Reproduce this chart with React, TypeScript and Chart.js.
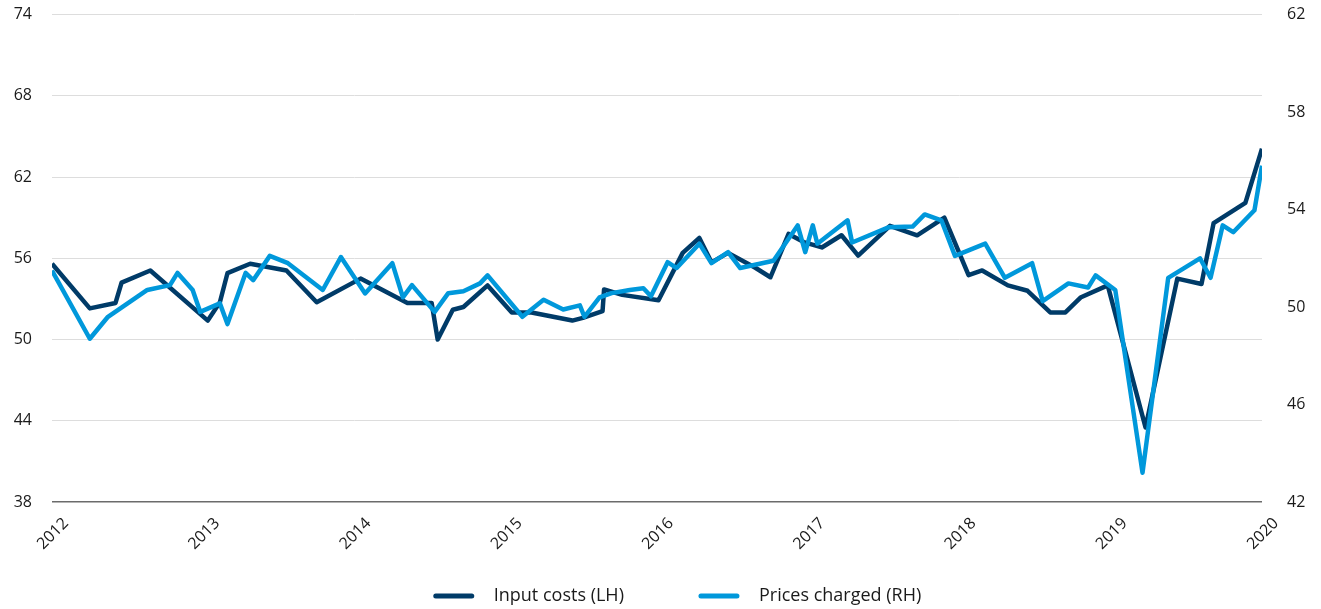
import React, { useEffect, useRef } from "react";
import { Chart, registerables } from "chart.js";

Chart.register(...registerables);

// Time positions (decimal years) and values
const inputCostsX = [
  2012.0, 2012.25, 2012.42, 2012.46, 2012.65, 2013.03, 2013.11, 2013.16, 2013.31, 2013.55,
  2013.75, 2014.04, 2014.35, 2014.51, 2014.55, 2014.65, 2014.72, 2014.88, 2015.04, 2015.17,
  2015.44, 2015.51, 2015.64, 2015.65, 2015.77, 2016.01, 2016.17, 2016.28, 2016.36, 2016.47,
  2016.65, 2016.75, 2016.87, 2016.97, 2017.09, 2017.22, 2017.33, 2017.54, 2017.72, 2017.9,
  2018.06, 2018.15, 2018.32, 2018.45, 2018.6, 2018.7, 2018.8, 2018.98, 2019.23, 2019.44,
  2019.6, 2019.68, 2019.89, 2020.0,
];
const inputCosts = [
  55.6, 52.3, 52.7, 54.2, 55.1, 51.4, 52.75, 54.9, 55.6, 55.1,
  52.75, 54.5, 52.7, 52.7, 50.0, 52.2, 52.4, 54.0, 52.0, 52.0,
  51.4, 51.6, 52.1, 53.7, 53.3, 52.9, 56.4, 57.5, 55.7, 56.4,
  55.3, 54.6, 57.8, 57.2, 56.8, 57.7, 56.2, 58.4, 57.7, 59.0,
  54.75, 55.1, 54.0, 53.6, 52.0, 52.0, 53.1, 54.0, 43.5, 54.5,
  54.1, 58.6, 60.1, 64.1,
];

const pricesChargedX = [
  2012.0, 2012.25, 2012.37, 2012.63, 2012.78, 2012.83, 2012.93, 2012.98, 2013.11, 2013.16,
  2013.28, 2013.33, 2013.44, 2013.56, 2013.79, 2013.91, 2014.07, 2014.25, 2014.32, 2014.38,
  2014.53, 2014.62, 2014.72, 2014.83, 2014.88, 2015.11, 2015.25, 2015.38, 2015.49, 2015.52,
  2015.62, 2015.7, 2015.82, 2015.91, 2015.96, 2016.07, 2016.13, 2016.28, 2016.36, 2016.47,
  2016.55, 2016.77, 2016.93, 2016.98, 2017.03, 2017.06, 2017.26, 2017.29, 2017.53, 2017.69,
  2017.77, 2017.88, 2017.97, 2018.17, 2018.3, 2018.48, 2018.55, 2018.72, 2018.85, 2018.9,
  2019.03, 2019.21, 2019.38, 2019.59, 2019.66, 2019.74, 2019.81, 2019.95, 2020.0,
];
const pricesCharged = [
  51.5, 48.7, 49.6, 50.7, 50.9, 51.4, 50.7, 49.8, 50.15, 49.3,
  51.4, 51.1, 52.1, 51.8, 50.7, 52.05, 50.56, 51.8, 50.4, 50.9,
  49.8, 50.57, 50.65, 50.97, 51.3, 49.6, 50.3, 49.9, 50.07, 49.6,
  50.4, 50.57, 50.7, 50.77, 50.44, 51.84, 51.6, 52.6, 51.8, 52.25,
  51.6, 51.9, 53.35, 52.25, 53.35, 52.6, 53.56, 52.65, 53.27, 53.3,
  53.8, 53.56, 52.1, 52.6, 51.2, 51.8, 50.24, 50.97, 50.8, 51.3,
  50.7, 43.2, 51.2, 52.0, 51.2, 53.35, 53.07, 53.97, 55.8,
];

const seriesNames = ["Input costs (LH)", "Prices charged (RH)"];
const seriesColors = ["#003b68", "#0098db"];
const yearTicks = [2012, 2013, 2014, 2015, 2016, 2017, 2018, 2019, 2020];
const leftTicks = [38, 44, 50, 56, 62, 68, 74];
const rightTicks = [42, 46, 50, 54, 58, 62];

const FONT = "'Open Sans', sans-serif";

const legendPlugin = {
  id: "customLegend",
  afterDraw(chart: any) {
    const ctx = chart.ctx;
    ctx.save();
    ctx.font = `18px ${FONT}`;
    const lineW = 40;
    const gapText = 20;
    const gapItems = 75;
    const widths = seriesNames.map((n) => ctx.measureText(n).width);
    const total = lineW * 2 + gapText * 2 + widths[0] + widths[1] + gapItems;
    let x = chart.width / 2 + 17 - total / 2;
    const y = chart.height - 13;
    seriesNames.forEach((name, i) => {
      ctx.strokeStyle = seriesColors[i];
      ctx.lineWidth = 5;
      ctx.lineCap = "round";
      ctx.beginPath();
      ctx.moveTo(x + 2, y);
      ctx.lineTo(x + lineW - 2, y);
      ctx.stroke();
      ctx.fillStyle = "#1a1a1a";
      ctx.textBaseline = "middle";
      ctx.textAlign = "left";
      ctx.fillText(name, x + lineW + gapText, y);
      x += lineW + gapText + widths[i] + gapItems;
    });
    ctx.restore();
  },
};

export default function App() {
  const ref = useRef<HTMLCanvasElement>(null);
  useEffect(() => {
    document.body.style.margin = "0";
    const chart = new Chart(ref.current!, {
      type: "line",
      data: {
        datasets: [
          {
            label: seriesNames[0],
            data: inputCostsX.map((x, i) => ({ x, y: inputCosts[i] })),
            borderColor: seriesColors[0],
            backgroundColor: seriesColors[0],
            borderWidth: 4.5,
            pointRadius: 0,
            tension: 0,
            borderJoinStyle: "round",
            yAxisID: "y",
            order: 1,
          },
          {
            label: seriesNames[1],
            data: pricesChargedX.map((x, i) => ({ x, y: pricesCharged[i] })),
            borderColor: seriesColors[1],
            backgroundColor: seriesColors[1],
            borderWidth: 4.5,
            pointRadius: 0,
            tension: 0,
            borderJoinStyle: "round",
            yAxisID: "y1",
            order: 0,
          },
        ],
      },
      options: {
        animation: false,
        responsive: true,
        maintainAspectRatio: false,
        layout: { padding: { left: 0, right: 0, top: 0, bottom: 40 } },
        plugins: { legend: { display: false }, tooltip: { enabled: false } },
        scales: {
          x: {
            type: "linear",
            min: 2012,
            max: 2020,
            afterBuildTicks: (axis: any) => {
              axis.ticks = yearTicks.map((v) => ({ value: v }));
            },
            afterFit: (axis: any) => {
              axis.height = 67;
            },
            grid: { display: false },
            border: { display: false },
            ticks: {
              callback: (v: any) => String(v),
              minRotation: 45,
              maxRotation: 45,
              labelOffset: 14,
              padding: 4,
              color: "#1a1a1a",
              font: { family: FONT, size: 16 },
            },
          },
          y: {
            position: "left",
            min: 38,
            max: 74,
            afterBuildTicks: (axis: any) => {
              axis.ticks = leftTicks.map((v) => ({ value: v }));
            },
            afterFit: (axis: any) => {
              axis.width = 52;
            },
            border: { display: false },
            grid: {
              drawTicks: false,
              color: (c: any) => (c.tick && c.tick.value === 38 ? "#6b6b6b" : "#dddddd"),
              lineWidth: (c: any) => (c.tick && c.tick.value === 38 ? 1.5 : 1),
            },
            ticks: {
              padding: 20,
              color: "#1a1a1a",
              font: { family: FONT, size: 16 },
            },
          },
          y1: {
            position: "right",
            min: 42,
            max: 62,
            afterBuildTicks: (axis: any) => {
              axis.ticks = rightTicks.map((v) => ({ value: v }));
            },
            afterFit: (axis: any) => {
              axis.width = 59;
            },
            border: { display: false },
            grid: { display: false, drawTicks: false },
            ticks: {
              padding: 25,
              color: "#1a1a1a",
              font: { family: FONT, size: 16 },
            },
          },
        },
      },
      plugins: [legendPlugin],
    });
    return () => chart.destroy();
  }, []);
  return (
    <div style={{ position: "fixed", left: 0, top: -20, width: 1321, height: 629 }}>
      <canvas ref={ref} />
    </div>
  );
}
